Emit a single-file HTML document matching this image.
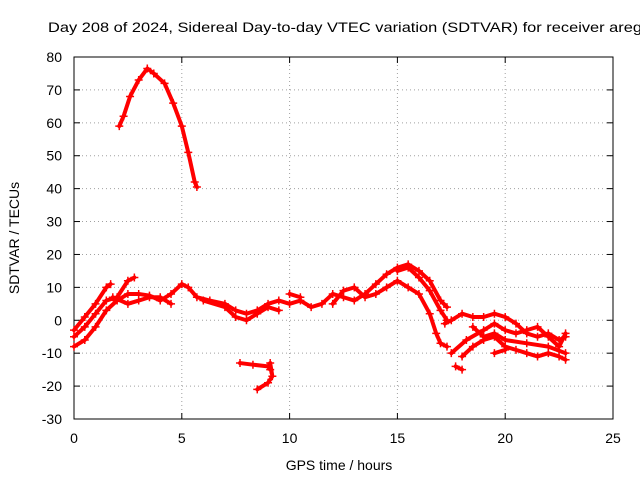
<!DOCTYPE html>
<html><head><meta charset="utf-8"><style>
body{margin:0;background:#fff;}
svg text{font-family:"Liberation Sans",sans-serif;font-size:14px;fill:#000;}
</style></head><body>
<svg id="chart" width="640" height="480" viewBox="0 0 640 480" xmlns="http://www.w3.org/2000/svg">
<rect width="640" height="480" fill="#fff"/>
<text x="48" y="32" textLength="594" lengthAdjust="spacingAndGlyphs">Day 208 of 2024, Sidereal Day-to-day VTEC variation (SDTVAR) for receiver areg</text>
<g id="grid"></g><g id="axes"></g><g id="series"></g>
<text x="339" y="470" text-anchor="middle">GPS time / hours</text>
<text transform="translate(19,238) rotate(-90)" text-anchor="middle">SDTVAR / TECUs</text>
</svg>
<script>
const xTicks=[0,5,10,15,20,25];
const yTicks=[-30,-20,-10,0,10,20,30,40,50,60,70,80];
const track1=[[2.1,59],[2.3,62],[2.6,68],[3,73],[3.4,76.5],[3.7,75],[4.2,72],[4.6,66],[5,59],[5.3,51],[5.6,42],[5.7,40.5]];
const track2=[[7.7,-13],[8.3,-13.5],[9,-14],[9.1,-15]];
const track3=[[8.5,-21],[9,-19],[9.2,-17],[9.1,-13]];
const trackA=[[0,-8],[0.5,-6],[1,-2],[1.5,3],[2,6],[2.5,8],[3,8],[3.5,7.5],[4,6],[4.5,8],[5,11],[5.3,10],[5.7,7],[6.3,6],[7,5],[7.5,3],[8,2],[8.5,3],[9,5],[9.5,6],[10,5],[10.5,6],[11,4],[11.5,5],[12,8],[12.5,7],[13,6],[13.5,8],[14,11],[14.5,14],[15,16],[15.5,17],[16,15],[16.5,12],[17,6],[17.3,4]];
const trackB=[[0,-3],[0.5,1],[1,5],[1.5,10],[1.7,11]];
const trackC=[[0,-5],[0.5,-2],[1,2],[1.5,6],[2,7],[2.5,12],[2.8,13]];
const trackD=[[1.8,7],[2.5,5],[3,6],[3.5,7],[4,7],[4.5,5]];
const trackE=[[6,6],[7,4],[7.5,1],[8,0],[8.5,2],[9,4],[9.5,3]];
const trackF=[[10,8],[10.5,7]];
const trackG=[[12,5],[12.5,9],[13,10],[13.5,7],[14,8],[14.5,10],[15,12],[15.5,10],[16,8],[16.5,2],[16.8,-4],[17,-7],[17.3,-8]];
const trackH=[[15,15],[15.5,16],[16,13],[16.5,9],[17,3],[17.3,0]];
const trackI=[[17.2,-1],[17.5,0],[18,2],[18.5,1],[19,1],[19.5,2],[20,1],[20.5,-1],[21,-4],[21.5,-5],[22,-4],[22.5,-6],[22.8,-5]];
const trackJ=[[17.5,-10],[18.2,-6],[19,-3],[19.5,-1],[20,-3],[20.5,-4],[21,-3],[21.5,-2],[22,-5],[22.5,-8],[22.8,-4]];
const trackK=[[18,-11],[18.5,-8],[19,-6],[19.5,-5],[20,-8],[20.5,-9],[21,-10],[21.5,-11],[22,-10],[22.5,-11],[22.8,-12]];
const trackL=[[17.7,-14],[18,-15]];
const trackM=[[18.5,-2],[19,-5],[19.5,-4],[20,-6],[21,-7],[22,-8],[22.8,-10]];
const trackN=[[19.5,-10],[20,-9]];
const tracks=[track1,track2,track3,trackA,trackB,trackC,trackD,trackE,trackF,trackG,trackH,trackI,trackJ,trackK,trackL,trackM,trackN];

const L=74,R=613,T=57,B=419;
const xs=v=>L+(v-0)/25*(R-L);
const ys=v=>B-(v+30)/110*(B-T);
const NS="http://www.w3.org/2000/svg";
const grid=document.getElementById('grid'),axes=document.getElementById('axes'),ser=document.getElementById('series');
function mk(tag,attrs,parent){const e=document.createElementNS(NS,tag);for(const k in attrs)e.setAttribute(k,attrs[k]);parent.appendChild(e);return e;}
xTicks.forEach(t=>{
  const x=xs(t);
  if(t>0&&t<25){const g=mk('line',{x1:x,x2:x,y1:T,y2:B,stroke:'#a0a0a0','stroke-dasharray':'1,3'},grid);
  
  }
  mk('line',{x1:x,x2:x,y1:B,y2:B-6,stroke:'#000'},axes);
  mk('line',{x1:x,x2:x,y1:T,y2:T+6,stroke:'#000'},axes);
  const l=mk('text',{x:x,y:B+24,'text-anchor':'middle'},axes);l.textContent=t;
  
  
});
yTicks.forEach(t=>{
  const y=ys(t);
  if(t>-30&&t<80){const g=mk('line',{x1:L,x2:R,y1:y,y2:y,stroke:'#a0a0a0','stroke-dasharray':'1,3'},grid);
  
  }
  mk('line',{x1:L,x2:L+6,y1:y,y2:y,stroke:'#000'},axes);
  mk('line',{x1:R,x2:R-6,y1:y,y2:y,stroke:'#000'},axes);
  const l=mk('text',{x:L-12,y:y+5,'text-anchor':'end'},axes);l.textContent=t;
  
  
});
const frame=mk('rect',{x:L,y:T,width:R-L,height:B-T,fill:'none',stroke:'#000'},axes);


tracks.forEach(tr=>{
  const p=mk('polyline',{points:tr.map(d=>xs(d[0])+','+ys(d[1])).join(' '),fill:'none',stroke:'#f00','stroke-width':4,'stroke-linejoin':'round','stroke-linecap':'round'},ser);
  
  
  tr.forEach(d=>{
    const x=xs(d[0]),y=ys(d[1]);
    const c=mk('path',{d:`M${x-4},${y}h8M${x},${y-4}v8`,stroke:'#f00','stroke-width':1.5},ser);
    
    
  });
});
</script>
</body></html>
